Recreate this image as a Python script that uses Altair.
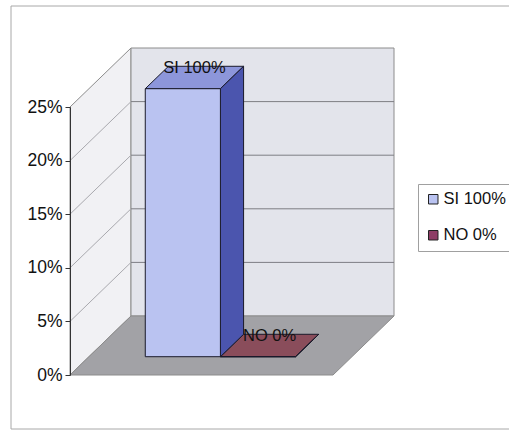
import altair as alt
import pandas as pd

# ---- data ----
series = ["SI 100%", "NO 0%"]
values = [1.00, 0.00]
tick_values = [0.00, 0.05, 0.10, 0.15, 0.20, 0.25]

# ---- styles ----
front_colors = ["#BAC3F1", "#8E3D66"]
top_colors = ["#8D96DA", "#8A4D5B"]
side_colors = ["#4B55AE", "#5A2A40"]
FONT = "Liberation Sans"

# ---- 3D projection / layout constants ----
Y_MAX = 0.25
GAP = 1.5                      # Excel gap width (150%)
DX = 61 / 263                  # depth shift in x units
DY = 59 / 268 * Y_MAX          # depth shift in y units
D0, D1 = 0.31, 0.69            # bar front / back depth

n = len(series)
bw = 1.0 / (n + GAP)
front_rows, side_rows, top_rows, label_rows = [], [], [], []
for i, (s, v) in enumerate(zip(series, values)):
    shown = min(v, Y_MAX)
    x0 = (GAP / 2 + i) * bw
    x1 = x0 + bw
    front_rows.append(dict(series=s, fx0=x0 + D0 * DX, fx1=x1 + D0 * DX,
                           fy0=D0 * DY, fy1=shown + D0 * DY))
    for d in (D0, D1):
        side_rows.append(dict(series=s, sx=x1 + d * DX, sy0=d * DY, sy1=shown + d * DY))
        top_rows.append(dict(series=s, ty=shown + d * DY, tx0=x0 + d * DX, tx1=x1 + d * DX))
    dm = (D0 + D1) / 2
    label_rows.append(dict(series=s, lx=(x0 + x1) / 2 + dm * DX, ly=shown + dm * DY))

front_df = pd.DataFrame(front_rows)
side_df = pd.DataFrame(side_rows)
top_df = pd.DataFrame(top_rows)
label_df = pd.DataFrame(label_rows)

xs = alt.Scale(domain=[0, 1], nice=False, zero=False)
ys = alt.Scale(domain=[0, Y_MAX], nice=False, zero=False)

YAXIS = alt.Axis(values=tick_values, format=".0%", labelFontSize=17.5,
                 labelFont=FONT, labelColor="#111111", domainColor="#333333",
                 tickColor="#333333", tickSize=5, labelPadding=3, grid=False,
                 title=None, domainWidth=1, tickWidth=1, zindex=2)


def X(f):
    return alt.X(f, type="quantitative", scale=xs, axis=None)


def Y(f):
    return alt.Y(f, type="quantitative", scale=ys, axis=YAXIS)


# walls
left_wall_df = pd.DataFrame({"x": [0, DX], "y0": [0, DY], "y1": [Y_MAX, Y_MAX + DY]})
back_wall_df = pd.DataFrame({"x0": [DX], "x1": [1 + DX], "y0": [DY], "y1": [Y_MAX + DY]})
floor_df = pd.DataFrame({"y": [0, DY], "x0": [0, DX], "x1": [1, 1 + DX]})
grid_df = pd.DataFrame({"t": tick_values})
grid_df["tb"] = grid_df["t"] + DY
grid_df["xa"] = 0.0
grid_df["xb"] = DX
grid_df["xc"] = 1 + DX
inner_grid = grid_df[(grid_df["t"] > 0) & (grid_df["t"] < Y_MAX)]

frame = alt.Chart(pd.DataFrame({"a": [0]})).mark_rect(
    fill="white", stroke="#A8A8A8", strokeWidth=1
).encode(x=alt.value(-59), x2=alt.value(446), y=alt.value(-101), y2=alt.value(322))

left_wall = alt.Chart(left_wall_df).mark_area(
    fill="#F1F1F4", stroke="#8C8C8C", strokeWidth=1
).encode(x=X("x"), y=Y("y0"), y2="y1")

back_wall = alt.Chart(back_wall_df).mark_rect(
    fill="#E3E4EB", stroke="#8C8C8C", strokeWidth=1
).encode(x=X("x0"), x2="x1", y=Y("y0"), y2="y1")

floor = alt.Chart(floor_df).mark_area(
    orient="horizontal", fill="#A2A2A6", stroke="#8C8C8C", strokeWidth=1
).encode(y=Y("y"), x=X("x0"), x2="x1")

left_grid = alt.Chart(inner_grid).mark_rule(color="#A9A9AE", strokeWidth=1).encode(
    x=X("xa"), x2="xb", y=Y("t"), y2="tb")

back_grid = alt.Chart(inner_grid).mark_rule(color="#7E7E84", strokeWidth=1).encode(
    x=X("xb"), x2="xc", y=Y("tb"))

tops = alt.Chart(top_df).mark_area(orient="horizontal", stroke="#1A1A2A", strokeWidth=1).encode(
    y=Y("ty"), x=X("tx0"), x2="tx1", detail="series:N",
    fill=alt.Fill("series:N", scale=alt.Scale(domain=series, range=top_colors), legend=None))

sides = alt.Chart(side_df).mark_area(stroke="#1A1A2A", strokeWidth=1).encode(
    x=X("sx"), y=Y("sy0"), y2="sy1", detail="series:N",
    fill=alt.Fill("series:N", scale=alt.Scale(domain=series, range=side_colors), legend=None))

fronts = alt.Chart(front_df).mark_rect(stroke="#1A1A2A", strokeWidth=1).encode(
    x=X("fx0"), x2="fx1", y=Y("fy0"), y2="fy1",
    fill=alt.Fill("series:N", scale=alt.Scale(domain=series, range=front_colors),
                  legend=alt.Legend(orient="none", legendX=348, legendY=77, title=None,
                                    symbolType="square", symbolSize=90,
                                    symbolStrokeColor="#222222", symbolStrokeWidth=1,
                                    labelFontSize=16.5, labelFont=FONT, labelColor="#111111",
                                    labelOffset=2, rowPadding=19, padding=7,
                                    strokeColor="#A0A0A0", fillColor="white")))

labels = alt.Chart(label_df).mark_text(
    fontSize=16.5, font=FONT, baseline="alphabetic", dy=-5, color="#111111"
).encode(x=X("lx"), y=Y("ly"), text="series:N")

chart = alt.layer(
    frame, left_wall, back_wall, floor, left_grid, back_grid,
    tops, sides, fronts, labels
).resolve_scale(fill="independent").properties(
    width=263, height=268,
    autosize=alt.AutoSizeParams(type="none"),
    padding={"left": 70, "top": 107, "right": 176, "bottom": 57},
).configure_view(stroke=None).configure(font=FONT)

chart.save("out.html", embed_options={"renderer": "svg", "actions": False})
